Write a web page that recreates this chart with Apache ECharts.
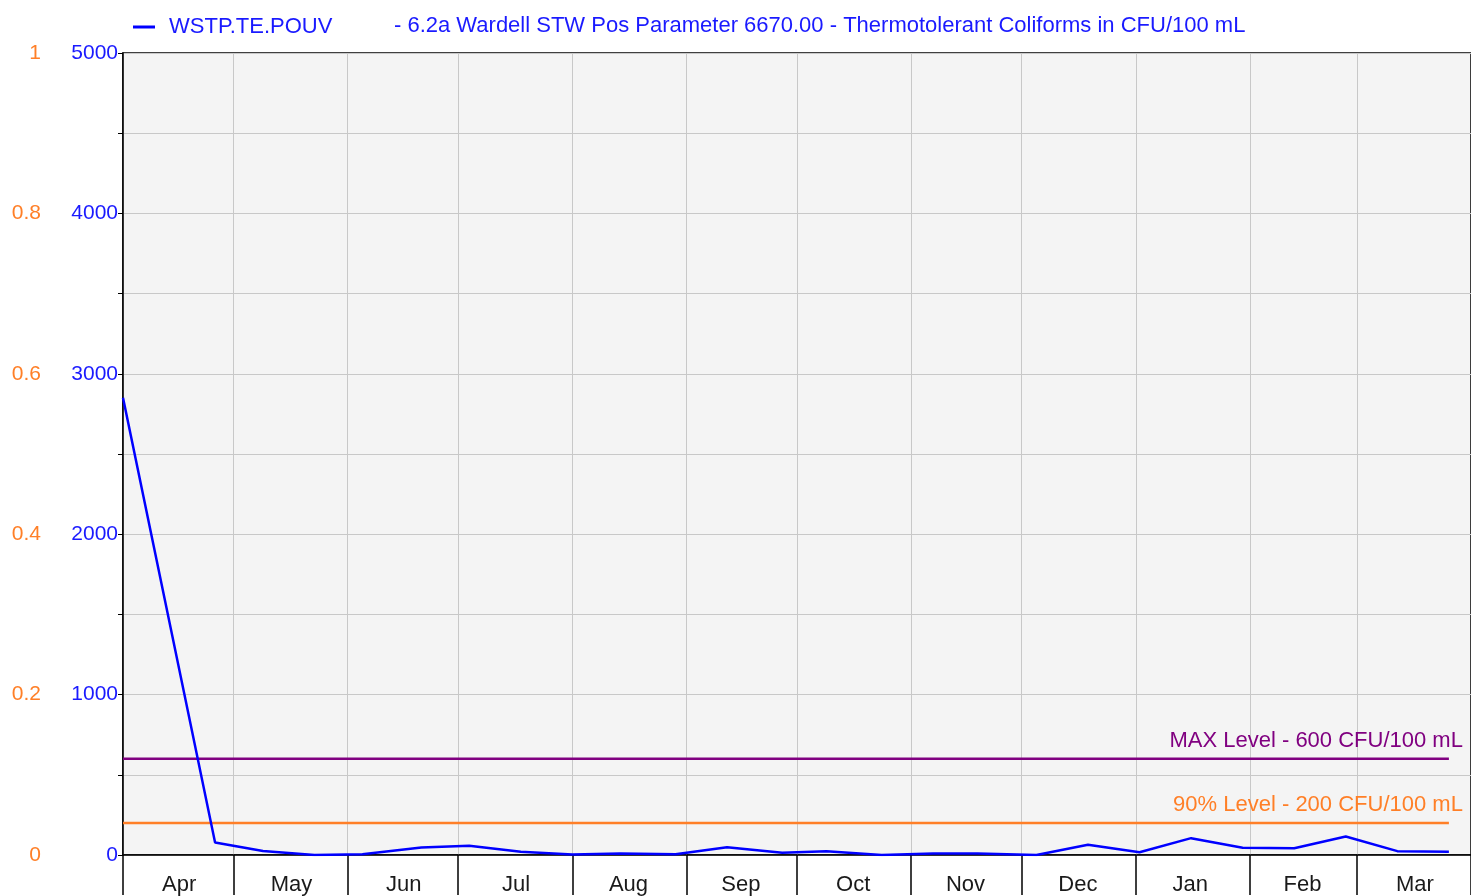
<!DOCTYPE html>
<html>
<head>
<meta charset="utf-8">
<title>Thermotolerant Coliforms</title>
<script src="https://cdn.jsdelivr.net/npm/echarts@6/dist/echarts.min.js"></script>
<style>
  html, body { margin: 0; padding: 0; background: #fff; }
  #chart { width: 1471px; height: 896px; }
</style>
</head>
<body>
<div id="chart"></div>
<script>
// sample dates and results (CFU/100 mL)
const sampleDates = [
  '2019-04-01', '2019-04-26', '2019-05-09', '2019-05-23', '2019-06-05', '2019-06-21',
  '2019-07-04', '2019-07-18', '2019-08-01', '2019-08-14', '2019-08-29', '2019-09-12',
  '2019-09-27', '2019-10-09', '2019-10-24', '2019-11-07', '2019-11-19', '2019-12-05',
  '2019-12-19', '2020-01-02', '2020-01-16', '2020-01-30', '2020-02-13', '2020-02-27',
  '2020-03-12', '2020-03-26'
]
const coliformValues = [
  2850, 78, 25, 0, 5, 47,
  58, 20, 3, 10, 5, 49,
  14, 24, 0, 10, 10, 0,
  64, 17, 105, 45, 42, 115,
  24, 20
]
const monthLabels = ['Apr', 'May', 'Jun', 'Jul', 'Aug', 'Sep', 'Oct', 'Nov', 'Dec', 'Jan', 'Feb', 'Mar']
const maxLevel = 600
const level90 = 200
const seriesName = 'WSTP.TE.POUV'
const titleText = '- 6.2a Wardell STW Pos Parameter 6670.00 - Thermotolerant Coliforms in CFU/100 mL'

const FONT = '"Liberation Sans", Arial, sans-serif'
const DAY = 24 * 3600 * 1000

const chart = echarts.init(document.getElementById('chart'))

const firstDate = sampleDates[0]
const lastDate = sampleDates[sampleDates.length - 1]

function levelSeries(name, value, color, text) {
  return {
    name: name,
    type: 'line',
    symbol: 'circle',
    symbolSize: 0,
    showSymbol: true,
    silent: true,
    lineStyle: { color: color, width: 2.5 },
    itemStyle: { color: color },
    data: [
      [firstDate, value],
      {
        value: [lastDate, value],
        label: {
          show: true,
          position: 'top',
          align: 'right',
          distance: 7,
          offset: [14, 0],
          formatter: text,
          color: color,
          fontSize: 22,
          fontFamily: FONT
        }
      }
    ],
    z: 3
  }
}

const option = {
  backgroundColor: '#fff',
  animation: false,
  textStyle: { fontFamily: FONT },
  title: {
    text: titleText,
    left: 389,
    top: 10,
    textStyle: { color: '#1a1aff', fontSize: 22, fontWeight: 'normal', fontFamily: FONT }
  },
  legend: {
    data: [seriesName],
    left: 128,
    top: 11,
    icon: 'rect',
    itemWidth: 22,
    itemHeight: 3,
    textStyle: { color: '#1a1aff', fontSize: 22, fontFamily: FONT, padding: [0, 0, 0, 9] }
  },
  grid: {
    left: 123,
    right: 0,
    top: 53,
    bottom: 41,
    show: true,
    backgroundColor: '#f4f4f4',
    borderColor: '#000',
    borderWidth: 1.5
  },
  xAxis: [
    {
      type: 'time',
      min: '2019-04-01',
      max: '2020-04-01',
      minInterval: 28 * DAY,
      maxInterval: 31 * DAY,
      axisLine: { lineStyle: { color: '#000', width: 1.5 } },
      axisTick: { show: true, length: 40, lineStyle: { color: '#000', width: 1.5 } },
      axisLabel: { show: false },
      splitLine: { show: true, lineStyle: { color: '#c8c8c8', width: 1 } }
    },
    {
      type: 'category',
      position: 'bottom',
      data: monthLabels,
      boundaryGap: true,
      axisLine: { show: false },
      axisTick: { show: false },
      splitLine: { show: false },
      axisLabel: { color: '#1a1a1a', fontSize: 22, fontFamily: FONT, margin: 19 }
    }
  ],
  yAxis: [
    {
      type: 'value',
      min: 0,
      max: 5000,
      interval: 500,
      axisLine: { show: true, lineStyle: { color: '#000', width: 1.5 } },
      axisTick: { show: true, length: 5, lineStyle: { color: '#000' } },
      axisLabel: {
        color: '#1a1aff',
        fontSize: 21,
        fontFamily: FONT,
        margin: 5,
        formatter: v => (v % 1000 === 0 ? String(v) : '')
      },
      splitLine: { show: true, lineStyle: { color: '#c8c8c8', width: 1 } }
    },
    {
      type: 'value',
      position: 'left',
      offset: 74,
      min: 0,
      max: 1,
      interval: 0.2,
      axisLine: { show: false },
      axisTick: { show: false },
      splitLine: { show: false },
      axisLabel: { color: '#ff7f27', fontSize: 21, fontFamily: FONT, margin: 8 }
    }
  ],
  series: [
    levelSeries('MAX Level', maxLevel, '#800080', 'MAX Level - 600 CFU/100 mL'),
    levelSeries('90% Level', level90, '#ff7f27', '90% Level - 200 CFU/100 mL'),
    {
      name: seriesName,
      type: 'line',
      symbol: 'none',
      color: '#0000ff',
      lineStyle: { color: '#0000ff', width: 2.5 },
      data: sampleDates.map((d, i) => [d, coliformValues[i]]),
      z: 4
    }
  ]
}

chart.setOption(option)
</script>
</body>
</html>
